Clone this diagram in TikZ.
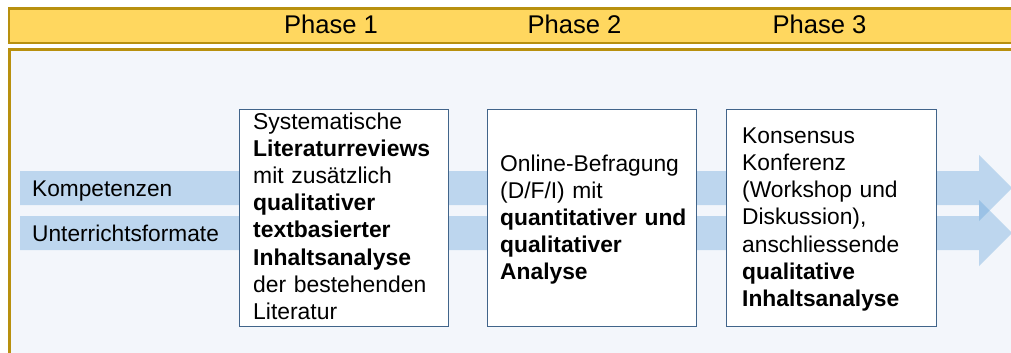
\documentclass[tikz,border=0pt]{standalone}
\usepackage{fontspec}
\setmainfont{Liberation Sans}
\definecolor{hdrfill}{RGB}{255,215,95}
\definecolor{gold}{RGB}{184,144,14}
\definecolor{bodyfill}{RGB}{243,246,251}
\definecolor{arrowc}{RGB}{102,164,217}
\definecolor{boxline}{RGB}{65,100,138}
\begin{document}
\begin{tikzpicture}[x=1pt,y=-1pt,
  phase/.style={anchor=base, inner sep=0pt, font=\fontsize{25.6}{30}\selectfont},
  band/.style={fill=arrowc, fill opacity=0.38},
  bandlabel/.style={anchor=base west, inner sep=0pt, font=\fontsize{22.7}{26}\selectfont},
  stepbox/.style={draw=boxline, line width=1.5pt, fill=white, anchor=north west, inner sep=0pt, minimum height=217pt},
  boxtext/.style={anchor=base west, inner sep=0pt, text width=205pt, align=left}]
\useasboundingbox (0,0) rectangle (1011,353);
\clip (0,0) rectangle (1011,353);
\fill[white] (0,0) rectangle (1011,353);
\draw[gold, line width=2.5pt, fill=hdrfill] (9,8.5) rectangle (1040,43);
\draw[gold, line width=3pt, fill=bodyfill] (9.5,49.5) rectangle (1040,400);
\node[phase] (p1) at (331,33.3) {Phase 1};
\node[phase] (p2) at (574.5,33.3) {Phase 2};
\node[phase] (p3) at (819.5,33.3) {Phase 3};
\path[band] (20,171) -- (979,171) -- (979,155) -- (1012,188) -- (979,221) -- (979,205) -- (20,205) -- cycle;
\path[band] (20,216) -- (979,216) -- (979,200) -- (1012,233) -- (979,266) -- (979,250) -- (20,250) -- cycle;
\node[bandlabel] (l1) at (32,196.7) {Kompetenzen};
\node[bandlabel] (l2) at (32,241.7) {Unterrichtsformate};
\node[stepbox, minimum width=209pt] (b1) at (238.5,108.5) {};
\node[stepbox, minimum width=209pt] (b2) at (486.5,108.5) {};
\node[stepbox, minimum width=210pt] (b3) at (725.5,108.5) {};
\node[boxtext, font=\fontsize{22.9}{27.1}\selectfont] (t1) at (253,129.5) {Systematische\\ \textbf{Literaturreviews}\\ mit zusätzlich\\ \textbf{qualitativer}\\ \textbf{textbasierter}\\ \textbf{Inhaltsanalyse}\\ der bestehenden\\ Literatur};
\node[boxtext, font=\fontsize{22.8}{26.9}\selectfont] (t2) at (500,171.7) {Online-Befragung\\ (D/F/I) mit\\ \textbf{quantitativer und}\\ \textbf{qualitativer}\\ \textbf{Analyse}};
\node[boxtext, font=\fontsize{22.8}{27.2}\selectfont] (t3) at (742,143.3) {Konsensus\\ Konferenz\\ (Workshop und\\ Diskussion),\\ anschliessende\\ \textbf{qualitative}\\ \textbf{Inhaltsanalyse}};
\end{tikzpicture}
\end{document}
